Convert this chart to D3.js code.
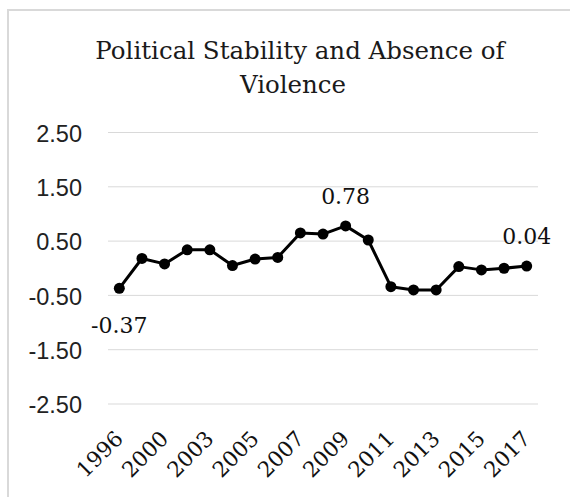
<!DOCTYPE html>
<html>
<head>
<meta charset="utf-8">
<script src="https://cdn.jsdelivr.net/npm/d3@7"></script>
<style>
  html, body { margin: 0; padding: 0; background: #fff; }
  svg { display: block; }
</style>
</head>
<body>
<svg id="chart" width="570" height="497"></svg>
<script>
// Political Stability and Absence of Violence estimate by year
const years = ["1996","1998","2000","2002","2003","2004","2005","2006","2007","2008",
               "2009","2010","2011","2012","2013","2014","2015","2016","2017"];
const values = [-0.37, 0.18, 0.08, 0.34, 0.34, 0.05, 0.17, 0.20, 0.65, 0.63,
                0.78, 0.52, -0.34, -0.40, -0.40, 0.03, -0.03, 0.00, 0.04];
const yTicks = [-2.5, -1.5, -0.5, 0.5, 1.5, 2.5];
const shownYears = ["1996","2000","2003","2005","2007","2009","2011","2013","2015","2017"];
const labelledYears = ["1996","2009","2017"];

const svg = d3.select("#chart");
const W = 570, H = 497;
const margin = { top: 132.5, right: 32, bottom: 93, left: 108 };
const serif = "'DejaVu Serif', serif";
const fmt = v => d3.format(".2f")(v).replace("\u2212", "-");

// Outer frame (left and top edges visible)
svg.append("path")
  .attr("d", `M8,${H} L8,10 L${W},10`)
  .attr("fill", "none")
  .attr("stroke", "#d9d9d9")
  .attr("stroke-width", 2);

// Title
const title = svg.append("text")
  .attr("text-anchor", "middle")
  .attr("font-family", serif)
  .attr("font-size", 24.5)
  .attr("fill", "#1a1a1a");
title.append("tspan").attr("x", 300).attr("y", 59).text("Political Stability and Absence of");
title.append("tspan").attr("x", 293).attr("y", 93).text("Violence");

const x = d3.scaleBand()
  .domain(years)
  .range([margin.left, W - margin.right]);

const y = d3.scaleLinear()
  .domain([-2.5, 2.5])
  .range([H - margin.bottom, margin.top]);

// Horizontal gridlines
svg.append("g")
  .selectAll("line")
  .data(yTicks)
  .join("line")
  .attr("x1", margin.left)
  .attr("x2", W - margin.right)
  .attr("y1", d => y(d))
  .attr("y2", d => y(d))
  .attr("stroke", "#d9d9d9")
  .attr("stroke-width", 1);

// Y axis labels
const yAxis = svg.append("g")
  .attr("transform", `translate(${margin.left},0)`)
  .call(d3.axisLeft(y).tickValues(yTicks).tickFormat(fmt).tickSize(0).tickPadding(26));
yAxis.select(".domain").remove();
yAxis.selectAll("text")
  .attr("font-family", "'Liberation Sans', Arial, sans-serif")
  .attr("font-size", 23.5)
  .attr("dy", "0.37em")
  .attr("fill", "#222");

// X axis labels, rotated
const xAxis = svg.append("g")
  .attr("transform", `translate(0,${H - margin.bottom})`)
  .call(d3.axisBottom(x).tickValues(shownYears).tickSize(0).tickPadding(0));
xAxis.select(".domain").remove();
xAxis.selectAll("text")
  .attr("font-family", serif)
  .attr("font-size", 21.5)
  .attr("fill", "#111")
  .attr("text-anchor", "end")
  .attr("dy", null)
  .attr("y", 0)
  .attr("transform", "translate(5,36) rotate(-45)");

const cx = d => x(d) + x.bandwidth() / 2;
const data = years.map((yr, i) => ({ yr, v: values[i] }));

// Series line
svg.append("path")
  .datum(data)
  .attr("fill", "none")
  .attr("stroke", "#000")
  .attr("stroke-width", 3)
  .attr("stroke-linejoin", "round")
  .attr("d", d3.line().x(d => cx(d.yr)).y(d => y(d.v)));

// Markers
svg.append("g")
  .selectAll("circle")
  .data(data)
  .join("circle")
  .attr("cx", d => cx(d.yr))
  .attr("cy", d => y(d.v))
  .attr("r", 5.5)
  .attr("fill", "#000");

// Value labels
svg.append("g")
  .selectAll("text")
  .data(data.filter(d => labelledYears.includes(d.yr)))
  .join("text")
  .attr("x", d => cx(d.yr))
  .attr("y", d => d.v < 0 ? y(d.v) + 45 : y(d.v) - 22)
  .attr("text-anchor", "middle")
  .attr("font-family", serif)
  .attr("font-size", 22)
  .attr("fill", "#111")
  .text(d => fmt(d.v));
</script>
</body>
</html>
